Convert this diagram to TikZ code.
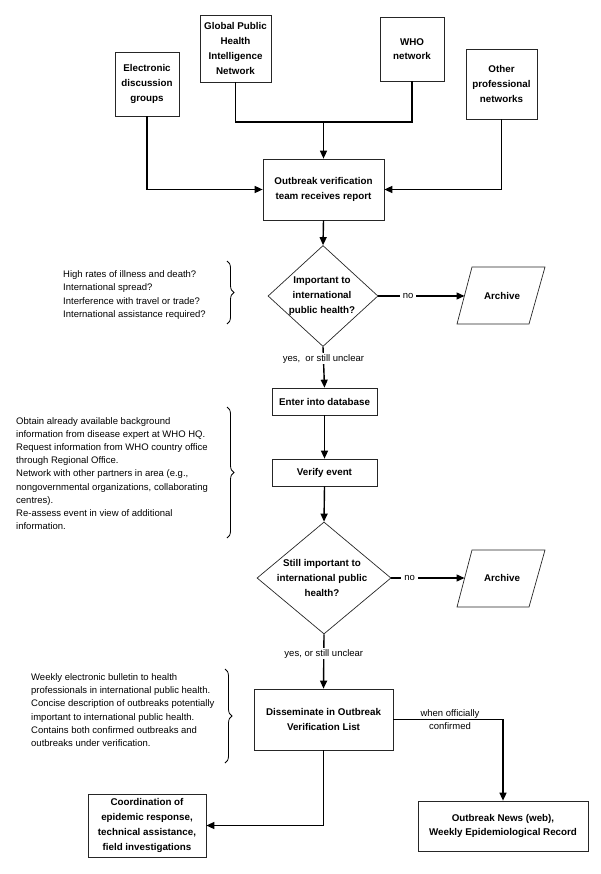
\documentclass[tikz,border=0pt]{standalone}
\usepackage{fontspec}
\setmainfont{Liberation Sans}
\usetikzlibrary{arrows.meta,shapes.geometric,decorations.pathreplacing}
\newcommand{\bxfont}{\fontsize{9.8}{14.7}\selectfont\bfseries}
\newcommand{\rgfont}{\fontsize{9.5}{13.2}\selectfont}
\tikzset{
  box/.style={draw=black!85, line width=0.7pt, fill=white, align=center, font=\bxfont, inner sep=0pt},
  dia/.style={draw=black!85, line width=0.7pt, shape=diamond, inner sep=0pt},
  dtext/.style={align=center, font=\bxfont, inner sep=0pt},
  note/.style={align=left, font=\rgfont, inner sep=0pt, anchor=west},
  lbl/.style={font=\rgfont, fill=white, inner xsep=3pt, inner ysep=1pt},
  arr/.style={line width=1.4pt, -{Triangle[length=8pt,width=7pt]}},
  conn/.style={line width=1.4pt},
  brc/.style={line width=0.8pt, decorate, decoration={brace, amplitude=7pt}},
  pline/.style={draw=black!85, line width=0.7pt}
}
\begin{document}
\begin{tikzpicture}[x=1pt, y=-1pt]
\useasboundingbox (0,0) rectangle (600,874);

% source boxes
\node[box, minimum width=64pt, minimum height=64pt] (edg) at (147,84) {Electronic\\discussion\\groups};
\node[box, minimum width=71pt, minimum height=67pt] (gph) at (235.5,48.5) {Global Public\\Health\\Intelligence\\Network};
\node[box, minimum width=64pt, minimum height=64pt] (who) at (412,49) {WHO\\network};
\node[box, minimum width=71pt, minimum height=70pt] (opn) at (501.5,84) {Other\\professional\\networks};

\node[box, minimum width=121pt, minimum height=61pt] (ovt) at (323.5,189.5) {Outbreak verification\\ team receives report};

\coordinate (j) at (323.5,122);
\draw[conn] (gph.south) |- (j) -| (who.south);
\draw[arr] (j) -- (ovt.north);
\draw[arr] (edg.south) |- (ovt.west);
\draw[arr] (opn.south) |- (ovt.east);

% first decision
\node[dia, minimum width=110pt, minimum height=101pt] (d1) at (323,296) {};
\node[dtext] (d1t) at (322,296) {Important to\\international\\public health?};
\draw[arr] (ovt.south) -- (d1.north);

\draw[pline] (457,324) -- (472,267) -- (545,267) -- (529,324) -- cycle;
\node[font=\bxfont, inner sep=0pt] (arch1) at (502,296) {Archive};
\coordinate (a1w) at (464.5,296);
\draw[arr] (d1.east) -- node[lbl, pos=0.345] (no1) {no} (a1w);

\node[box, minimum width=105pt, minimum height=27pt] (edb) at (324.5,401.5) {Enter into database};
\draw[arr] (d1.south) -- node[lbl, pos=0.29] (yes1) {yes,\ \ or still unclear} (edb.north);

\node[box, minimum width=105pt, minimum height=27pt] (ver) at (324.5,472.5) {Verify event};
\draw[arr] (edb.south) -- (ver.north);

% second decision
\node[dia, minimum width=134pt, minimum height=112pt] (d2) at (324,578) {};
\node[dtext] (d2t) at (322,578) {Still important to\\international public\\health?};
\draw[arr] (ver.south) -- (d2.north);

\draw[pline] (457,607) -- (472,550) -- (545,550) -- (529,607) -- cycle;
\node[font=\bxfont, inner sep=0pt] (arch2) at (502,578) {Archive};
\coordinate (a2w) at (464.5,578);
\draw[arr] (d2.east) -- node[lbl, pos=0.25] (no2) {no} (a2w);

\node[box, minimum width=139pt, minimum height=61pt] (dis) at (323.5,719.5) {Disseminate in Outbreak\\Verification List};
\draw[arr] (d2.south) -- node[lbl, pos=0.36] (yes2) {yes, or still unclear} (dis.north);

\node[box, minimum width=118pt, minimum height=63pt] (coo) at (147,825.5) {Coordination of\\epidemic response,\\technical assistance,\\field investigations};
\node[box, minimum width=170pt, minimum height=50pt] (news) at (503,826) {Outbreak News (web),\\Weekly Epidemiological Record};

\draw[arr] (dis.south) |- (coo.east);
\draw[arr] (dis.east) -| (news.north);
\node[align=center, font=\rgfont, inner sep=0pt] (woc) at (450,719.5) {when officially\\confirmed};

% side notes and braces
\node[note] (n1) at (63,295) {High rates of illness and death?\\International spread?\\Interference with travel or trade?\\International assistance required?};
\coordinate (b1a) at (227,261);
\coordinate (b1b) at (227,324);
\draw[brc] (b1a) -- (b1b);

\node[note] (n2) at (16,473.5) {Obtain already available background\\information from disease expert at WHO HQ.\\Request information from WHO country office\\through Regional Office.\\Network with other partners in area (e.g.,\\nongovernmental organizations, collaborating\\centres).\\Re-assess event in view of additional\\information.};
\coordinate (b2a) at (227,407);
\coordinate (b2b) at (227,538);
\draw[brc] (b2a) -- (b2b);

\node[note] (n3) at (31,710) {Weekly electronic bulletin to health\\professionals in international public health.\\Concise description of outbreaks potentially\\important to international public health.\\Contains both confirmed outbreaks and\\outbreaks under verification.};
\coordinate (b3a) at (225,669);
\coordinate (b3b) at (225,763);
\draw[brc] (b3a) -- (b3b);
\end{tikzpicture}
\end{document}
